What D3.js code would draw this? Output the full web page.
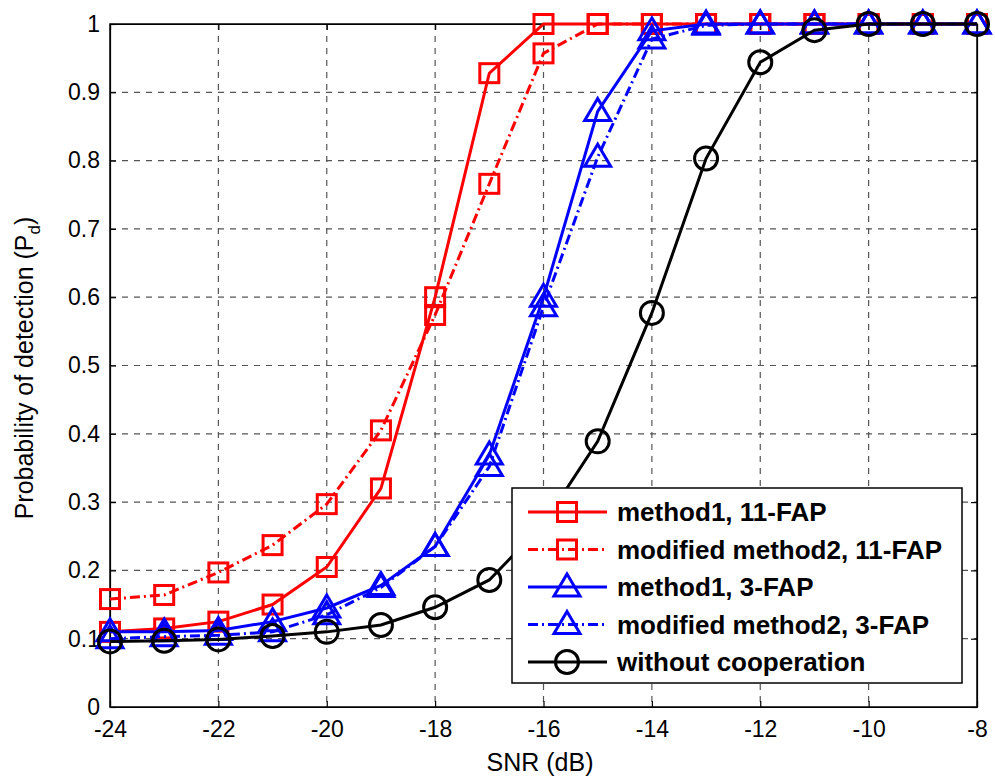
<!DOCTYPE html>
<html>
<head>
<meta charset="utf-8">
<script src="https://cdn.jsdelivr.net/npm/d3@7"></script>
<style>
  body { margin: 0; background: #fff; }
  svg { font-family: "Liberation Sans", Arial, sans-serif; }
</style>
</head>
<body>
<svg width="995" height="780"></svg>
<script>
let snr = [-24, -23, -22, -21, -20, -19, -18, -17, -16, -15, -14, -13, -12, -11, -10, -9, -8];

let m1_11 = [0.11, 0.115, 0.125, 0.15, 0.205, 0.32, 0.60, 0.928, 1, 1, 1, 1, 1, 1, 1, 1, 1];
let m2_11 = [0.158, 0.164, 0.197, 0.237, 0.297, 0.405, 0.574, 0.766, 0.957, 1, 1, 1, 1, 1, 1, 1, 1];
let m1_3 = [0.11, 0.11, 0.112, 0.125, 0.145, 0.178, 0.235, 0.369, 0.60, 0.872, 0.99, 1, 1, 1, 1, 1, 1];
let m2_3 = [0.10, 0.103, 0.105, 0.11, 0.135, 0.175, 0.235, 0.352, 0.586, 0.805, 0.978, 0.998, 1, 1, 1, 1, 1];
let noCoop = [0.096, 0.097, 0.099, 0.104, 0.11, 0.12, 0.146, 0.186, 0.268, 0.389, 0.577, 0.803, 0.944, 0.991, 1, 1, 1];

let xTicks = [-24, -22, -20, -18, -16, -14, -12, -10, -8];
let yTicks = [0, 0.1, 0.2, 0.3, 0.4, 0.5, 0.6, 0.7, 0.8, 0.9, 1];

let series = [
  { name: 'method1, 11-FAP', values: m1_11, color: '#ff0000', dash: null, marker: 'square' },
  { name: 'modified method2, 11-FAP', values: m2_11, color: '#ff0000', dash: '10,4,2,4', marker: 'square' },
  { name: 'method1, 3-FAP', values: m1_3, color: '#0000ff', dash: null, marker: 'triangle' },
  { name: 'modified method2, 3-FAP', values: m2_3, color: '#0000ff', dash: '10,4,2,4', marker: 'triangle' },
  { name: 'without cooperation', values: noCoop, color: '#000000', dash: null, marker: 'circle' }
];

let pLeft = 110, pRight = 977, pTop = 24, pBottom = 707;

let x = d3.scaleLinear().domain([-24, -8]).range([pLeft, pRight]);
let y = d3.scaleLinear().domain([0, 1]).range([pBottom, pTop]);

let svg = d3.select('svg');

// grid
let grid = svg.append('g').attr('class', 'grid');
grid.selectAll('line.gx')
  .data(xTicks.slice(1, -1))
  .join('line')
  .attr('class', 'gx')
  .attr('x1', d => x(d)).attr('x2', d => x(d))
  .attr('y1', pTop).attr('y2', pBottom)
  .style('stroke', '#555').style('stroke-width', 1.2).style('stroke-dasharray', '6,6');
grid.selectAll('line.gy')
  .data(yTicks.slice(1, -1))
  .join('line')
  .attr('class', 'gy')
  .attr('x1', pLeft).attr('x2', pRight)
  .attr('y1', d => y(d)).attr('y2', d => y(d))
  .style('stroke', '#555').style('stroke-width', 1.2).style('stroke-dasharray', '6,6');

// axes
let xAxis = d3.axisBottom(x).tickValues(xTicks).tickSizeInner(-6).tickSizeOuter(0).tickPadding(14)
  .tickFormat(d => String(d));
let yAxis = d3.axisLeft(y).tickValues(yTicks).tickSizeInner(-6).tickSizeOuter(0).tickPadding(10)
  .tickFormat(d => d === 0 ? '0' : d === 1 ? '1' : d3.format('.1f')(d));

svg.append('g').attr('transform', `translate(0,${pBottom})`).call(xAxis);
svg.append('g').attr('transform', `translate(${pLeft},0)`).call(yAxis);
svg.append('g').attr('transform', `translate(0,${pTop})`)
  .call(d3.axisTop(x).tickValues(xTicks).tickSizeInner(-6).tickSizeOuter(0).tickFormat(''));
svg.append('g').attr('transform', `translate(${pRight},0)`)
  .call(d3.axisRight(y).tickValues(yTicks).tickSizeInner(-6).tickSizeOuter(0).tickFormat(''));

svg.selectAll('.tick text').style('font-size', '23px').style('fill', '#000')
  .style('font-family', '"Liberation Sans", Arial, sans-serif');
svg.selectAll('.domain, .tick line').style('stroke', '#000').style('stroke-width', 1.2);

svg.append('rect')
  .attr('x', pLeft).attr('y', pTop).attr('width', pRight - pLeft).attr('height', pBottom - pTop)
  .style('fill', 'none').style('stroke', '#000').style('stroke-width', 1.5);

// marker drawing
function drawMarker(g, type, cx, cy, color) {
  if (type === 'square') {
    g.append('rect').attr('x', cx - 9.5).attr('y', cy - 9.5).attr('width', 19).attr('height', 19)
      .style('fill', 'none').style('stroke', color).style('stroke-width', 3);
  } else if (type === 'triangle') {
    g.append('path')
      .attr('d', `M${cx},${cy - 13}L${cx + 13},${cy + 9}L${cx - 13},${cy + 9}Z`)
      .style('fill', 'none').style('stroke', color).style('stroke-width', 3)
      .style('stroke-linejoin', 'miter');
  } else {
    g.append('circle').attr('cx', cx).attr('cy', cy).attr('r', 11.5)
      .style('fill', 'none').style('stroke', color).style('stroke-width', 3);
  }
}

let line = d3.line().x((d, i) => x(snr[i])).y(d => y(d));

let plot = svg.append('g').attr('class', 'chart');
series.forEach(function(s) {
  let g = plot.append('g');
  g.append('path')
    .datum(s.values)
    .attr('d', line)
    .style('fill', 'none')
    .style('stroke', s.color)
    .style('stroke-width', 3)
    .style('stroke-dasharray', s.dash);
  s.values.forEach(function(v, i) {
    drawMarker(g, s.marker, x(snr[i]), y(v), s.color);
  });
});

// legend
let legend = svg.append('g');
legend.append('rect')
  .attr('x', 512).attr('y', 488).attr('width', 450).attr('height', 195)
  .style('fill', '#fff').style('stroke', '#000').style('stroke-width', 1.5);

series.forEach(function(s, i) {
  let ly = 512 + i * 37.5;
  legend.append('line')
    .attr('x1', 528).attr('x2', 607).attr('y1', ly).attr('y2', ly)
    .style('stroke', s.color).style('stroke-width', 3).style('stroke-dasharray', s.dash);
  drawMarker(legend, s.marker, 567, ly, s.color);
  legend.append('text')
    .attr('x', 617).attr('y', ly + 9)
    .style('font-size', '26px').style('font-weight', 'bold')
    .text(s.name);
});

// axis labels
svg.append('text')
  .attr('x', 540).attr('y', 771)
  .attr('text-anchor', 'middle')
  .style('font-size', '25px')
  .text('SNR (dB)');

let yl = svg.append('text')
  .attr('transform', `translate(33,368) rotate(-90)`)
  .attr('text-anchor', 'middle')
  .style('font-size', '25px');
yl.append('tspan').text('Probability of detection (P');
yl.append('tspan').attr('dy', 7).style('font-size', '17px').text('d');
yl.append('tspan').attr('dy', -7).text(')');
</script>
</body>
</html>
